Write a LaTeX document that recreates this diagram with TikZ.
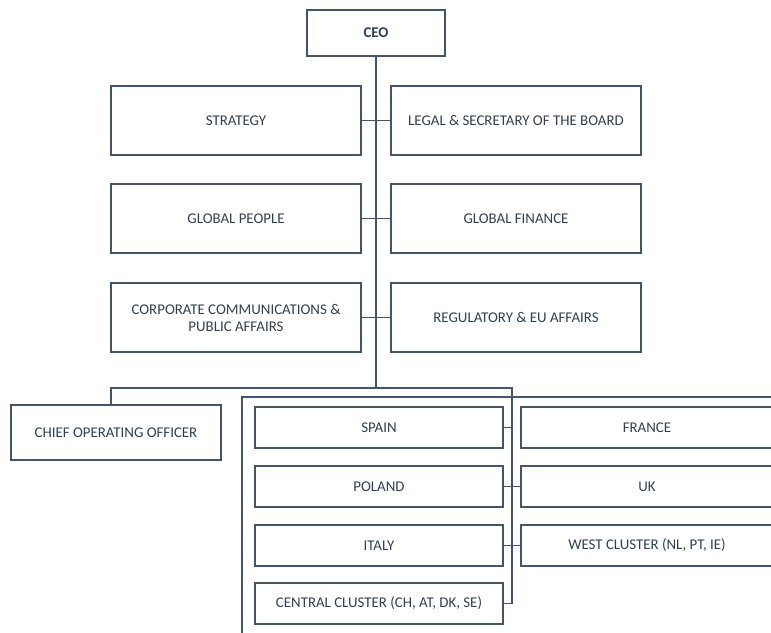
\documentclass[tikz,border=0pt]{standalone}
\usepackage{fontspec}
\setmainfont{Carlito}
\usepackage{xcolor}
\usetikzlibrary{positioning}
\definecolor{slateline}{RGB}{68,84,106}
\definecolor{slatetext}{RGB}{52,64,82}

\begin{document}
\begin{tikzpicture}[
  x=0.03cm, y=-0.03cm,
  every node/.style={font=\fontsize{12.7}{14.5}\selectfont, text=slatetext},
  unit/.style={draw=slateline, line width=1.4pt, fill=white, align=center, inner sep=2pt},
  staff/.style={unit, minimum width=7.5cm, minimum height=2.07cm},
  country/.style={unit, minimum width=7.44cm, minimum height=1.23cm},
  link/.style={draw=slateline, line width=1.4pt}
]
\clip (0,0) rectangle (771,632);
% top of the chart
\node[unit, minimum width=4.14cm, minimum height=1.38cm, font=\fontsize{12.7}{14.5}\selectfont\bfseries] (ceo) at (376,33) {CEO};
\node[staff] (strategy) at (236,120.5) {STRATEGY};
\node[staff] (legal) at (516,120.5) {LEGAL \& SECRETARY OF THE BOARD};
\node[staff] (people) at (236,218.5) {GLOBAL PEOPLE};
\node[staff] (finance) at (516,218.5) {GLOBAL FINANCE};
\node[staff] (comms) at (236,317.5) {CORPORATE COMMUNICATIONS \&\\ PUBLIC AFFAIRS};
\node[staff] (regulatory) at (516,317.5) {REGULATORY \& EU AFFAIRS};
\coordinate (bus) at (376,388);
\coordinate (hub) at (512,388);
\draw[link] (ceo.south) -- (bus);
\draw[link] (strategy.east) -- (legal.west);
\draw[link] (people.east) -- (finance.west);
\draw[link] (comms.east) -- (regulatory.west);
% lower part
\node[unit, minimum width=6.3cm, minimum height=1.65cm] (coo) at (116,432.5) {CHIEF OPERATING OFFICER};
\draw[link] (242,397) rectangle (820,680);
\node[country] (spain) at (379,427.5) {SPAIN};
\node[country, minimum width=7.56cm] (france) at (647,427.5) {FRANCE};
\node[country] (poland) at (379,486.5) {POLAND};
\node[country, minimum width=7.56cm] (uk) at (647,486.5) {UK};
\node[country] (italy) at (379,545.5) {ITALY};
\node[country, minimum width=7.56cm] (west) at (647,545.5) {WEST CLUSTER (NL, PT, IE)};
\node[country] (central) at (379,603.5) {CENTRAL CLUSTER (CH, AT, DK, SE)};
\draw[link] ([xshift=-0.15cm]coo.north) |- (hub) |- (central.east);
\draw[link] (spain.east) -- (spain.east -| hub);
\draw[link] (poland.east) -- (uk.west);
\draw[link] (italy.east) -- (west.west);
\end{tikzpicture}
\end{document}
